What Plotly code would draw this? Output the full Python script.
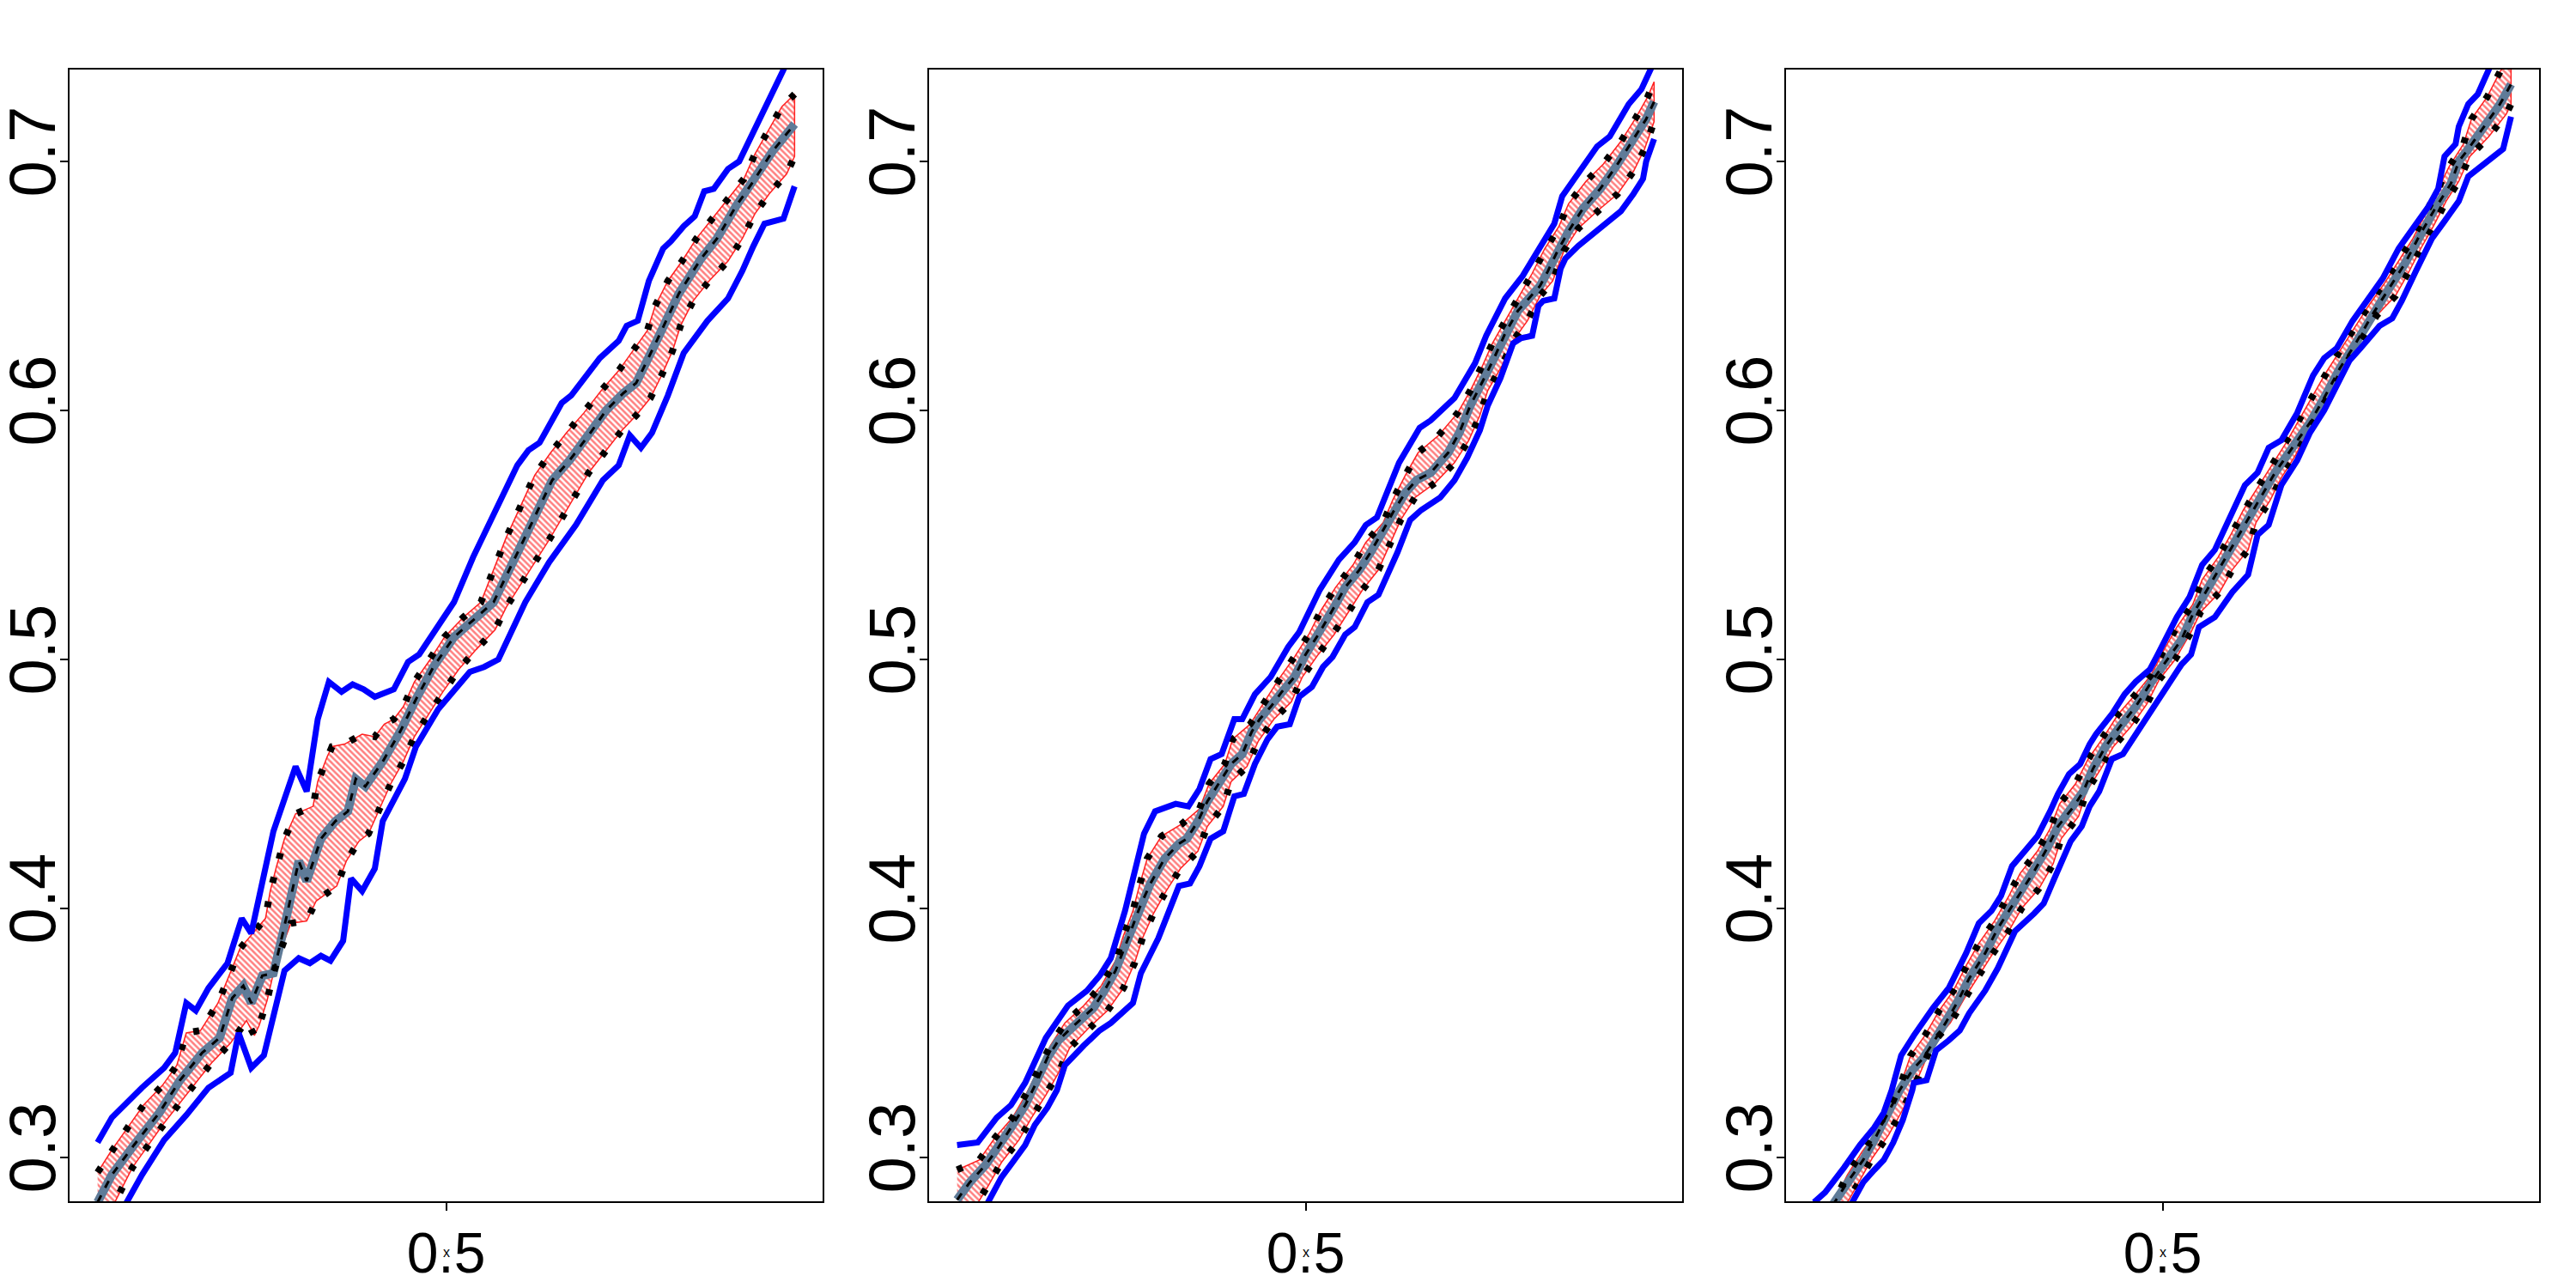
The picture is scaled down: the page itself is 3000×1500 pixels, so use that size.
import plotly.graph_objects as go

# ---------------- data ----------------
# Panel 1
P1_BLUE_UP = [(0.280,0.306),(0.289,0.316),(0.308,0.328),(0.322,0.336),(0.329,0.342),(0.336,0.362),(0.342,0.359),
              (0.350,0.368),(0.362,0.378),(0.371,0.396),(0.377,0.390),(0.391,0.431),(0.405,0.457),(0.412,0.447),
              (0.419,0.476),(0.426,0.491),(0.434,0.487),(0.441,0.490),(0.448,0.488),(0.455,0.485),(0.467,0.488),
              (0.476,0.499),(0.483,0.502),(0.495,0.514),(0.505,0.523),(0.517,0.541),(0.530,0.558),(0.545,0.578),
              (0.552,0.584),(0.559,0.587),(0.573,0.603),(0.579,0.606),(0.597,0.621),(0.609,0.628),(0.614,0.634),
              (0.621,0.636),(0.628,0.652),(0.637,0.665),(0.642,0.668),(0.650,0.674),(0.657,0.678),(0.663,0.688),
              (0.669,0.689),(0.678,0.697),(0.685,0.700),(0.699,0.718),(0.713,0.737),(0.720,0.746)]
P1_BLUE_LO = [(0.280,0.261),(0.299,0.282),(0.308,0.293),(0.322,0.307),(0.336,0.317),(0.350,0.328),(0.364,0.334),
              (0.369,0.350),(0.377,0.336),(0.385,0.341),(0.398,0.375),(0.407,0.380),(0.414,0.378),(0.421,0.381),
              (0.427,0.379),(0.435,0.387),(0.440,0.412),(0.447,0.407),(0.455,0.416),(0.460,0.435),(0.474,0.452),
              (0.481,0.465),(0.495,0.480),(0.515,0.495),(0.524,0.497),(0.533,0.500),(0.543,0.513),(0.550,0.523),
              (0.565,0.539),(0.582,0.554),(0.599,0.572),(0.609,0.578),(0.616,0.590),(0.623,0.585),(0.630,0.591),
              (0.640,0.606),(0.650,0.623),(0.665,0.636),(0.678,0.645),(0.687,0.656),(0.694,0.666),(0.701,0.675),
              (0.713,0.677),(0.720,0.690)]
P1_CENTER = [(0.280,0.282),(0.289,0.293),(0.303,0.305),(0.319,0.318),(0.332,0.331),(0.346,0.342),(0.357,0.348),
             (0.365,0.364),(0.372,0.369),(0.377,0.362),(0.384,0.373),(0.391,0.374),(0.398,0.393),(0.407,0.419),
             (0.412,0.411),(0.421,0.428),(0.430,0.435),(0.438,0.439),(0.443,0.452),(0.449,0.449),(0.460,0.459),
             (0.471,0.471),(0.481,0.484),(0.492,0.497),(0.505,0.509),(0.519,0.517),(0.530,0.523),(0.549,0.548),
             (0.567,0.572),(0.578,0.580),(0.590,0.590),(0.601,0.600),(0.612,0.607),(0.620,0.611),(0.633,0.628),
             (0.647,0.647),(0.661,0.661),(0.671,0.669),(0.683,0.682),(0.694,0.692),(0.706,0.704),(0.720,0.715)]
P1_RED_UP = [(0.280,0.294),(0.289,0.303),(0.299,0.312),(0.309,0.321),(0.321,0.329),(0.330,0.337),(0.336,0.350),
             (0.345,0.351),(0.356,0.362),(0.370,0.384),(0.386,0.396),(0.389,0.407),(0.393,0.417),(0.398,0.428),
             (0.405,0.438),(0.416,0.441),(0.419,0.451),(0.425,0.461),(0.428,0.465),(0.436,0.466),(0.447,0.470),
             (0.455,0.469),(0.461,0.474),(0.467,0.476),(0.473,0.481),(0.480,0.491),(0.490,0.500),(0.499,0.509),
             (0.511,0.517),(0.522,0.523),(0.538,0.549),(0.556,0.574),(0.566,0.583),(0.576,0.591),(0.587,0.599),
             (0.598,0.608),(0.609,0.616),(0.618,0.624),(0.627,0.632),(0.632,0.642),(0.640,0.652),(0.649,0.660),
             (0.658,0.669),(0.668,0.677),(0.678,0.685),(0.688,0.693),(0.695,0.703),(0.704,0.713),(0.712,0.722),
             (0.720,0.727)]
P1_RED_LO = [(0.280,0.268),(0.294,0.286),(0.302,0.296),(0.311,0.304),(0.321,0.313),(0.332,0.322),(0.342,0.330),
             (0.352,0.338),(0.364,0.346),(0.374,0.355),(0.379,0.349),(0.382,0.353),(0.387,0.363),(0.391,0.374),
             (0.396,0.384),(0.402,0.394),(0.412,0.395),(0.418,0.403),(0.431,0.409),(0.437,0.419),(0.445,0.427),
             (0.451,0.430),(0.458,0.440),(0.465,0.450),(0.473,0.459),(0.480,0.469),(0.489,0.478),(0.498,0.487),
             (0.508,0.496),(0.519,0.504),(0.531,0.512),(0.538,0.521),(0.565,0.548),(0.590,0.575),(0.601,0.584),
             (0.611,0.592),(0.620,0.598),(0.629,0.605),(0.636,0.614),(0.643,0.624),(0.648,0.634),(0.656,0.644),
             (0.666,0.652),(0.678,0.660),(0.687,0.669),(0.695,0.679),(0.704,0.687),(0.715,0.695),(0.720,0.702)]

# Panel 2
P2_BLUE_UP = [(0.280,0.305),(0.293,0.306),(0.305,0.316),(0.314,0.321),(0.323,0.330),(0.336,0.348),(0.350,0.361),
              (0.362,0.367),(0.370,0.373),(0.377,0.380),(0.386,0.399),(0.398,0.430),(0.405,0.439),(0.418,0.442),
              (0.426,0.441),(0.433,0.448),(0.440,0.460),(0.447,0.462),(0.455,0.476),(0.460,0.476),(0.468,0.486),
              (0.478,0.493),(0.489,0.505),(0.496,0.511),(0.509,0.528),(0.521,0.540),(0.531,0.547),(0.538,0.554),
              (0.545,0.557),(0.550,0.565),(0.559,0.579),(0.572,0.593),(0.579,0.596),(0.594,0.605),(0.607,0.619),
              (0.614,0.630),(0.626,0.645),(0.637,0.654),(0.648,0.666),(0.657,0.675),(0.662,0.686),(0.672,0.695),
              (0.684,0.706),(0.692,0.710),(0.704,0.723),(0.712,0.729),(0.720,0.740)]
P2_BLUE_LO = [(0.280,0.259),(0.300,0.283),(0.308,0.292),(0.315,0.298),(0.323,0.305),(0.329,0.313),(0.337,0.320),
              (0.343,0.327),(0.348,0.337),(0.360,0.345),(0.370,0.351),(0.377,0.354),(0.391,0.362),(0.396,0.374),
              (0.407,0.388),(0.420,0.409),(0.427,0.410),(0.433,0.417),(0.440,0.428),(0.448,0.431),(0.455,0.445),
              (0.461,0.446),(0.468,0.458),(0.476,0.468),(0.482,0.473),(0.490,0.474),(0.496,0.485),(0.504,0.489),
              (0.511,0.497),(0.517,0.501),(0.525,0.510),(0.531,0.513),(0.539,0.523),(0.546,0.526),(0.558,0.543),
              (0.566,0.556),(0.573,0.560),(0.585,0.565),(0.594,0.572),(0.602,0.581),(0.610,0.592),(0.615,0.602),
              (0.623,0.613),(0.631,0.627),(0.636,0.629),(0.643,0.630),(0.647,0.642),(0.650,0.644),(0.657,0.645),
              (0.661,0.657),(0.664,0.661),(0.672,0.666),(0.684,0.672),(0.699,0.680),(0.707,0.687),(0.713,0.693),
              (0.715,0.700),(0.720,0.709)]
P2_CENTER = [(0.280,0.283),(0.288,0.290),(0.298,0.297),(0.306,0.304),(0.314,0.312),(0.323,0.321),(0.330,0.330),
             (0.337,0.340),(0.344,0.347),(0.352,0.352),(0.359,0.356),(0.366,0.360),(0.373,0.367),(0.380,0.375),
             (0.388,0.388),(0.395,0.400),(0.402,0.410),(0.411,0.420),(0.420,0.426),(0.425,0.428),(0.432,0.435),
             (0.438,0.443),(0.446,0.451),(0.453,0.458),(0.460,0.462),(0.466,0.471),(0.471,0.476),(0.478,0.481),
             (0.485,0.487),(0.493,0.493),(0.500,0.502),(0.509,0.511),(0.518,0.521),(0.525,0.529),(0.534,0.536),
             (0.541,0.543),(0.549,0.552),(0.556,0.560),(0.563,0.567),(0.570,0.572),(0.579,0.575),(0.590,0.583),
             (0.597,0.591),(0.604,0.602),(0.612,0.612),(0.619,0.621),(0.626,0.631),(0.634,0.640),(0.641,0.645),
             (0.648,0.650),(0.653,0.656),(0.659,0.664),(0.666,0.672),(0.675,0.681),(0.686,0.689),(0.696,0.698),
             (0.707,0.709),(0.715,0.717),(0.720,0.724)]
P2_RED_UP = [(0.280,0.295),(0.294,0.299),(0.304,0.308),(0.315,0.316),(0.324,0.326),(0.331,0.335),(0.339,0.345),
             (0.348,0.354),(0.360,0.361),(0.371,0.369),(0.380,0.379),(0.385,0.389),(0.391,0.399),(0.395,0.409),
             (0.400,0.420),(0.409,0.429),(0.422,0.434),(0.433,0.440),(0.439,0.450),(0.449,0.458),(0.454,0.468),
             (0.465,0.474),(0.474,0.483),(0.483,0.492),(0.493,0.501),(0.502,0.510),(0.510,0.520),(0.519,0.529),
             (0.530,0.538),(0.538,0.547),(0.549,0.555),(0.555,0.564),(0.563,0.574),(0.571,0.583),(0.584,0.590),
             (0.596,0.599),(0.604,0.608),(0.611,0.617),(0.618,0.627),(0.627,0.637),(0.635,0.646),(0.643,0.655),
             (0.651,0.665),(0.660,0.674),(0.666,0.683),(0.677,0.692),(0.688,0.699),(0.699,0.708),(0.708,0.717),
             (0.716,0.726),(0.720,0.732)]
P2_RED_LO = [(0.280,0.268),(0.300,0.289),(0.308,0.298),(0.319,0.307),(0.327,0.316),(0.336,0.325),(0.344,0.334),
             (0.351,0.344),(0.363,0.352),(0.375,0.359),(0.385,0.368),(0.392,0.378),(0.397,0.388),(0.404,0.398),
             (0.412,0.407),(0.421,0.416),(0.432,0.423),(0.438,0.433),(0.448,0.441),(0.453,0.451),(0.463,0.457),
             (0.470,0.467),(0.480,0.476),(0.491,0.483),(0.498,0.493),(0.508,0.502),(0.518,0.510),(0.527,0.519),
             (0.536,0.528),(0.546,0.536),(0.553,0.546),(0.560,0.556),(0.569,0.565),(0.582,0.571),(0.594,0.579),
             (0.603,0.588),(0.610,0.598),(0.615,0.608),(0.624,0.618),(0.631,0.628),(0.640,0.636),(0.648,0.646),
             (0.656,0.652),(0.663,0.664),(0.672,0.673),(0.684,0.680),(0.697,0.687),(0.707,0.696),(0.714,0.705),
             (0.720,0.716)]

# Panel 3
P3_BLUE_UP = [(0.280,0.282),(0.287,0.286),(0.299,0.296),(0.309,0.305),(0.318,0.312),(0.324,0.318),(0.329,0.327),
              (0.335,0.341),(0.343,0.349),(0.355,0.360),(0.365,0.368),(0.372,0.377),(0.376,0.382),(0.384,0.394),
              (0.392,0.399),(0.398,0.405),(0.405,0.417),(0.413,0.423),(0.421,0.429),(0.429,0.439),(0.434,0.446),
              (0.441,0.454),(0.448,0.458),(0.454,0.466),(0.458,0.470),(0.468,0.478),(0.476,0.486),(0.483,0.491),
              (0.492,0.496),(0.497,0.502),(0.502,0.508),(0.509,0.517),(0.517,0.525),(0.525,0.538),(0.533,0.544),
              (0.540,0.554),(0.552,0.570),(0.560,0.575),(0.567,0.585),(0.575,0.588),(0.585,0.599),(0.595,0.614),
              (0.602,0.621),(0.610,0.625),(0.620,0.636),(0.629,0.644),(0.639,0.653),(0.649,0.665),(0.658,0.673),
              (0.668,0.682),(0.674,0.689),(0.678,0.702),(0.685,0.707),(0.687,0.714),(0.693,0.723),(0.699,0.727),
              (0.706,0.737),(0.720,0.755)]
P3_BLUE_LO = [(0.280,0.254),(0.305,0.283),(0.311,0.290),(0.318,0.295),(0.324,0.299),(0.330,0.306),(0.336,0.315),
              (0.342,0.327),(0.343,0.330),(0.351,0.331),(0.357,0.343),(0.365,0.347),(0.372,0.351),(0.378,0.358),
              (0.388,0.367),(0.396,0.376),(0.403,0.385),(0.407,0.391),(0.419,0.398),(0.425,0.402),(0.431,0.411),
              (0.436,0.419),(0.442,0.427),(0.449,0.433),(0.454,0.441),(0.460,0.447),(0.468,0.460),(0.475,0.462),
              (0.479,0.466),(0.485,0.471),(0.493,0.479),(0.502,0.489),(0.512,0.498),(0.518,0.502),(0.523,0.513),
              (0.533,0.517),(0.544,0.527),(0.554,0.534),(0.560,0.550),(0.567,0.554),(0.575,0.570),(0.585,0.580),
              (0.593,0.591),(0.602,0.600),(0.610,0.610),(0.618,0.620),(0.625,0.625),(0.637,0.634),(0.645,0.637),
              (0.651,0.644),(0.660,0.656),(0.670,0.669),(0.678,0.676),(0.687,0.684),(0.693,0.694),(0.701,0.698),
              (0.715,0.705),(0.720,0.718)]
P3_CENTER = [(0.280,0.270),(0.294,0.283),(0.301,0.290),(0.311,0.299),(0.318,0.307),(0.326,0.317),(0.334,0.327),
             (0.342,0.335),(0.349,0.340),(0.355,0.346),(0.363,0.354),(0.371,0.363),(0.378,0.372),(0.388,0.382),
             (0.396,0.392),(0.403,0.399),(0.411,0.407),(0.419,0.415),(0.427,0.424),(0.434,0.433),(0.444,0.441),
             (0.450,0.447),(0.456,0.456),(0.464,0.465),(0.473,0.473),(0.483,0.481),(0.493,0.491),(0.502,0.499),
             (0.512,0.508),(0.519,0.518),(0.529,0.529),(0.540,0.541),(0.552,0.554),(0.562,0.565),(0.571,0.575),
             (0.583,0.586),(0.593,0.595),(0.602,0.605),(0.612,0.617),(0.622,0.627),(0.633,0.639),(0.643,0.649),
             (0.653,0.659),(0.662,0.670),(0.672,0.681),(0.682,0.691),(0.687,0.700),(0.693,0.705),(0.703,0.714),
             (0.713,0.723),(0.720,0.731)]
P3_RED_UP = [(0.280,0.271),(0.291,0.280),(0.301,0.293),(0.310,0.302),(0.318,0.309),(0.328,0.320),(0.335,0.330),
             (0.341,0.341),(0.350,0.349),(0.359,0.359),(0.368,0.367),(0.376,0.377),(0.384,0.386),(0.394,0.395),
             (0.403,0.405),(0.410,0.414),(0.421,0.423),(0.429,0.432),(0.435,0.442),(0.445,0.450),(0.453,0.460),
             (0.463,0.469),(0.472,0.478),(0.483,0.486),(0.493,0.494),(0.501,0.504),(0.509,0.513),(0.519,0.522),
             (0.525,0.532),(0.535,0.541),(0.543,0.550),(0.551,0.560),(0.560,0.569),(0.569,0.578),(0.578,0.587),
             (0.586,0.596),(0.595,0.606),(0.603,0.615),(0.612,0.624),(0.621,0.633),(0.630,0.642),(0.640,0.651),
             (0.649,0.660),(0.658,0.669),(0.666,0.679),(0.674,0.689),(0.681,0.698),(0.690,0.707),(0.695,0.717),
             (0.705,0.726),(0.713,0.736),(0.720,0.742)]
P3_RED_LO = [(0.280,0.262),(0.302,0.283),(0.309,0.291),(0.317,0.300),(0.327,0.309),(0.335,0.318),(0.343,0.328),
             (0.349,0.337),(0.355,0.346),(0.366,0.354),(0.375,0.364),(0.384,0.373),(0.393,0.382),(0.403,0.391),
             (0.411,0.400),(0.422,0.408),(0.431,0.418),(0.436,0.428),(0.447,0.437),(0.452,0.447),(0.461,0.456),
             (0.469,0.465),(0.480,0.473),(0.490,0.482),(0.498,0.492),(0.508,0.500),(0.518,0.511),(0.524,0.519),
             (0.536,0.527),(0.544,0.536),(0.554,0.544),(0.559,0.555),(0.568,0.564),(0.575,0.573),(0.584,0.582),
             (0.592,0.592),(0.600,0.601),(0.609,0.610),(0.617,0.620),(0.626,0.629),(0.635,0.638),(0.647,0.646),
             (0.655,0.655),(0.663,0.665),(0.671,0.674),(0.679,0.684),(0.687,0.692),(0.694,0.702),(0.706,0.710),
             (0.717,0.719),(0.720,0.723)]

Y_TICKS = [0.3, 0.4, 0.5, 0.6, 0.7]
Y_TICK_LABELS = ["0.3", "0.4", "0.5", "0.6", "0.7"]
X_TICKS = [0.5]
X_TICK_LABELS = ["0.5"]
X_TITLE = "x"

PANELS = [
    dict(blue_up=P1_BLUE_UP, blue_lo=P1_BLUE_LO, center=P1_CENTER, red_up=P1_RED_UP, red_lo=P1_RED_LO),
    dict(blue_up=P2_BLUE_UP, blue_lo=P2_BLUE_LO, center=P2_CENTER, red_up=P2_RED_UP, red_lo=P2_RED_LO),
    dict(blue_up=P3_BLUE_UP, blue_lo=P3_BLUE_LO, center=P3_CENTER, red_up=P3_RED_UP, red_lo=P3_RED_LO),
]

# ---------------- styling ----------------
W, H = 3000, 1500
X_DOMAINS = [(81 / W, 958 / W), (1082 / W, 1959 / W), (2080 / W, 2957 / W)]
Y_DOMAIN = (1 - 1399 / H, 1 - 81 / H)
X_RANGE = [0.2623, 0.7377]
Y_RANGE = [0.2824, 0.7369]
FONT = "Liberation Sans, Arial, Helvetica, sans-serif"


def xy(pts):
    return [p[0] for p in pts], [p[1] for p in pts]


fig = go.Figure()
for i, p in enumerate(PANELS):
    xa = "x" if i == 0 else f"x{i+1}"
    ya = "y" if i == 0 else f"y{i+1}"
    ux, uy = xy(p["red_up"])
    lx, ly = xy(p["red_lo"])
    # hatched red band
    fig.add_trace(go.Scatter(
        x=ux + lx[::-1], y=uy + ly[::-1], mode="lines", fill="toself",
        fillcolor="rgba(255,255,255,0)",
        fillpattern=dict(shape="\\", fgcolor="#ff0000", bgcolor="rgba(255,255,255,0)",
                         size=5, solidity=0.5),
        line=dict(color="#ff2020", width=1.5), xaxis=xa, yaxis=ya, hoverinfo="skip"))
    cx, cy = xy(p["center"])
    fig.add_trace(go.Scatter(x=cx, y=cy, mode="lines",
                             line=dict(color="#5f7b98", width=10),
                             xaxis=xa, yaxis=ya, hoverinfo="skip"))
    fig.add_trace(go.Scatter(x=cx, y=cy, mode="lines",
                             line=dict(color="black", width=3, dash="9px,10px"),
                             xaxis=xa, yaxis=ya, hoverinfo="skip"))
    for key in ("red_up", "red_lo"):
        dx, dy = xy(p[key])
        fig.add_trace(go.Scatter(x=dx, y=dy, mode="lines",
                                 line=dict(color="black", width=8, dash="7px,22px"),
                                 xaxis=xa, yaxis=ya, hoverinfo="skip"))
    for key in ("blue_up", "blue_lo"):
        bx, by = xy(p[key])
        fig.add_trace(go.Scatter(x=bx, y=by, mode="lines",
                                 line=dict(color="#0000ff", width=7),
                                 xaxis=xa, yaxis=ya, hoverinfo="skip"))

axis_common = dict(showline=True, linecolor="black", linewidth=2, mirror=True,
                   showgrid=False, zeroline=False, ticks="outside", ticklen=9,
                   tickwidth=1.5, tickcolor="black", automargin=False)

layout = dict(width=W, height=H, margin=dict(l=0, r=0, t=0, b=0),
              paper_bgcolor="white", plot_bgcolor="white", showlegend=False)
annotations = []
for i in range(3):
    n = "" if i == 0 else str(i + 1)
    layout[f"xaxis{n}"] = dict(axis_common, domain=list(X_DOMAINS[i]), range=X_RANGE,
                               anchor=f"y{n}", tickvals=X_TICKS, ticktext=X_TICK_LABELS,
                               tickfont=dict(family=FONT, size=66, color="black"),
                               ticklabelstandoff=-7)
    layout[f"yaxis{n}"] = dict(axis_common, domain=list(Y_DOMAIN), range=Y_RANGE,
                               anchor=f"x{n}", tickvals=Y_TICKS, ticktext=Y_TICK_LABELS,
                               tickangle=-90, ticklabelstandoff=-24,
                               tickfont=dict(family=FONT, size=76, color="black"))
    annotations.append(dict(x=0.5, y=1 - 1469 / H, xref=f"x{n}", yref="paper",
                            text=X_TITLE, showarrow=False,
                            font=dict(family=FONT, size=16, color="black")))
layout["annotations"] = annotations
fig.update_layout(**layout)

fig.write_html("out.html")
